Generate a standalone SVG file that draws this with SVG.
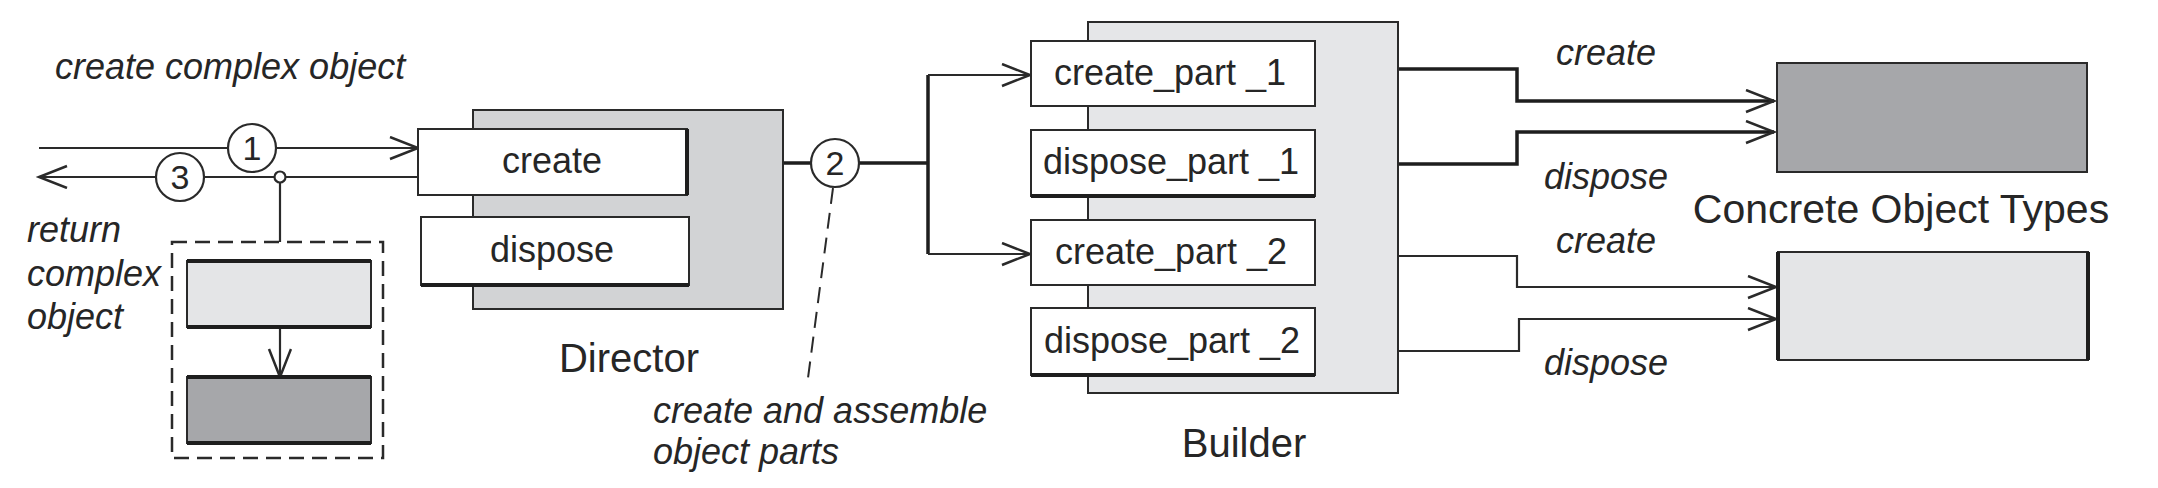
<svg xmlns="http://www.w3.org/2000/svg" width="2158" height="488" viewBox="0 0 2158 488">
<defs>
<style>
text{font-family:"Liberation Sans",Arial,sans-serif;fill:#262626}
.it{font-style:italic;font-size:36px}
.lbl{font-size:36px;text-anchor:middle}
.ttl{font-size:40px;text-anchor:middle}
.num{font-size:34px;text-anchor:middle}
.box{fill:#fff;stroke:#2a2a2a;stroke-width:2}
.back1{fill:#d2d3d5;stroke:#2a2a2a;stroke-width:2}
.back2{fill:#e5e6e8;stroke:#2a2a2a;stroke-width:2}
.dark{fill:#a6a7aa;stroke:#2a2a2a;stroke-width:2}
.light{fill:#e4e5e7;stroke:#2a2a2a;stroke-width:2}
.heavy{stroke:#1e1e1e;stroke-width:4;fill:none}
.ln{fill:none;stroke:#2a2a2a;stroke-width:2.2}
.thk{fill:none;stroke:#1e1e1e;stroke-width:3.5}
.circ{fill:#fff;stroke:#2a2a2a;stroke-width:2.2}
.dash{fill:none;stroke:#2a2a2a;stroke-width:2;stroke-dasharray:16 9}
</style>
<marker id="arr" markerUnits="userSpaceOnUse" markerWidth="34" markerHeight="26" refX="29" refY="12" orient="auto">
<path d="M1,1 L29,12 L1,23" fill="none" stroke="#2a2a2a" stroke-width="2.5"/>
</marker>
</defs>
<rect width="2158" height="488" fill="#fff"/>

<g id="connectors">
<path class="ln" d="M39,148 H418" marker-end="url(#arr)"/>
<path class="ln" d="M417,177 H39" marker-end="url(#arr)"/>
<path class="ln" d="M280,183 V242"/>
<path class="ln" d="M280,327 V377" marker-end="url(#arr)"/>
<path class="thk" d="M783,163 H811 M859,163 H928 M928,75 V254"/>
<path class="ln" d="M928,75 H1030" marker-end="url(#arr)"/>
<path class="ln" d="M928,254 H1030" marker-end="url(#arr)"/>
<path class="dash" d="M833,188 L808,378"/>
<path class="thk" d="M1317,69 H1517 V101 H1774" marker-end="url(#arr)"/>
<path class="thk" d="M1317,164 H1517 V132 H1774" marker-end="url(#arr)"/>
<path class="ln" d="M1317,256 H1517 V287 H1776" marker-end="url(#arr)"/>
<path class="ln" d="M1317,351 H1519 V319 H1776" marker-end="url(#arr)"/>
</g>

<g id="step1">
<circle class="circ" cx="252" cy="148" r="24"/>
<text class="num" x="252" y="160">1</text>
</g>
<g id="step3">
<circle class="circ" cx="180" cy="177" r="24"/>
<text class="num" x="180" y="189">3</text>
</g>
<g id="junction">
<circle class="circ" cx="280" cy="177" r="5.5"/>
</g>
<g id="step2">
<circle class="circ" cx="835" cy="163" r="24"/>
<text class="num" x="835" y="175">2</text>
</g>

<g id="label-create-complex">
<text class="it" x="55" y="79">create complex object</text>
</g>
<g id="label-return">
<text class="it" x="27" y="242">return</text>
<text class="it" x="27" y="286">complex</text>
<text class="it" x="27" y="329">object</text>
</g>

<g id="complex-object">
<rect x="172" y="242" width="211" height="216" fill="none" stroke="#2a2a2a" stroke-width="2.5" stroke-dasharray="15 8"/>
<rect class="light" x="187" y="261" width="184" height="66"/>
<path class="heavy" d="M187,261 H371 M187,327 H371"/>
<rect class="dark" x="187" y="377" width="184" height="66"/>
<path class="heavy" d="M187,377 H371 M187,443 H371"/>
</g>

<g id="director">
<rect class="back1" x="473" y="110" width="310" height="199"/>
<rect class="box" x="418" y="129" width="269" height="66"/>
<path class="heavy" d="M687,129 V195"/>
<text class="lbl" x="552" y="173">create</text>
<rect class="box" x="421" y="217" width="268" height="68"/>
<path class="heavy" d="M421,285 H689"/>
<text class="lbl" x="552" y="262">dispose</text>
<text class="ttl" x="629" y="372">Director</text>
</g>

<g id="label-assemble">
<text class="it" x="653" y="423">create and assemble</text>
<text class="it" x="653" y="464">object parts</text>
</g>

<g id="builder">
<rect class="back2" x="1088" y="22" width="310" height="371"/>
<rect class="box" x="1031" y="41" width="284" height="65"/>
<text class="lbl" x="1170" y="85">create_part _1</text>
<rect class="box" x="1031" y="130" width="284" height="66"/>
<path class="heavy" d="M1031,196 H1315"/>
<text class="lbl" x="1171" y="174">dispose_part _1</text>
<rect class="box" x="1031" y="220" width="284" height="65"/>
<text class="lbl" x="1171" y="264">create_part _2</text>
<rect class="box" x="1031" y="308" width="284" height="67"/>
<path class="heavy" d="M1031,375 H1315"/>
<text class="lbl" x="1172" y="353">dispose_part _2</text>
<text class="ttl" x="1244" y="457">Builder</text>
</g>

<g id="conn-labels">
<text class="it" x="1556" y="65">create</text>
<text class="it" x="1544" y="189">dispose</text>
<text class="it" x="1556" y="253">create</text>
<text class="it" x="1544" y="375">dispose</text>
</g>

<g id="concrete-types">
<rect class="dark" x="1777" y="63" width="310" height="109"/>
<rect class="light" x="1778" y="252" width="310" height="108"/>
<path class="heavy" d="M1778,252 V360 M2088,252 V360"/>
<text class="ttl" x="1901" y="223" style="font-size:41px">Concrete Object Types</text>
</g>
</svg>
